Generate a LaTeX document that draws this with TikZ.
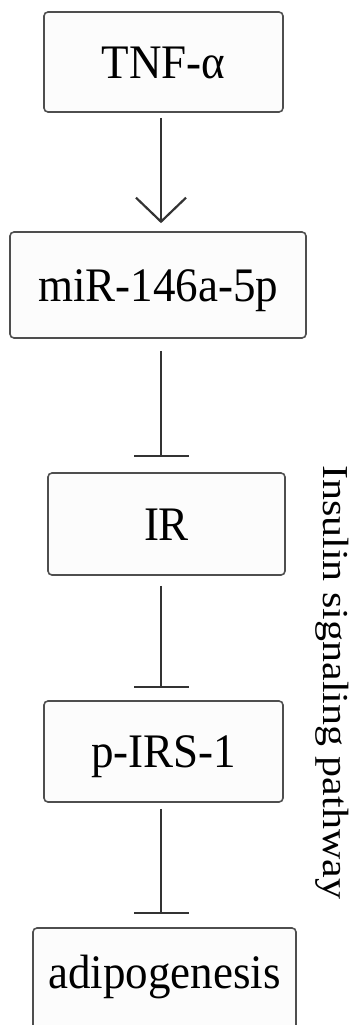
\documentclass[tikz,border=0pt]{standalone}
\usepackage{fontspec}
\setmainfont{Liberation Serif}
\usetikzlibrary{arrows.meta}
\definecolor{boxline}{HTML}{4E4E4E}
\definecolor{boxfill}{HTML}{FCFCFC}
\definecolor{conn}{HTML}{333333}
\tikzset{
  stepbox/.style={draw=boxline, fill=boxfill, line width=1.6pt, rounded corners=4pt,
    inner sep=0pt, text height=32pt, text depth=0pt,
    font=\fontsize{45}{45}\selectfont},
  actarrow/.style={draw=conn, line width=2.2pt, -{Straight Barb[length=24pt, width=50pt, line width=2.2pt]}},
  inhib/.style={draw=conn, line width=2pt, -{Bar[width=55pt, line width=2.6pt]}},
}
\newcommand{\tall}[1]{\scalebox{1}[1.07]{#1}}
\begin{document}
\begin{tikzpicture}[x=1pt,y=-1pt]
\useasboundingbox (0,0) rectangle (357,1025);
\clip (0,0) rectangle (357,1025);
\fill[white] (0,0) rectangle (357,1025);
\coordinate (cx) at (161,0);
\node[stepbox, minimum width=239pt, minimum height=100pt] (tnf) at (163.5,62) {\tall{TNF-α}};
\node[stepbox, minimum width=296pt, minimum height=106pt] (mir) at (158,285) {\tall{miR-146a-5p}};
\node[stepbox, minimum width=237pt, minimum height=102pt] (ir) at (166.5,524) {\tall{IR}};
\node[stepbox, minimum width=239pt, minimum height=101pt] (irs) at (163.5,751.5) {\tall{p-IRS-1}};
\node[stepbox, minimum width=263pt, minimum height=112pt, text depth=24pt] (adi) at (164.5,984) {\tall{adipogenesis}};
\draw[actarrow, shorten <=5pt, shorten >=8pt] (tnf.south -| cx) -- (mir.north -| cx);
\draw[inhib, shorten <=12pt, shorten >=15pt] (mir.south -| cx) -- (ir.north -| cx);
\draw[inhib, shorten <=10pt, shorten >=12pt] (ir.south -| cx) -- (irs.north -| cx);
\draw[inhib, shorten <=6pt, shorten >=13pt] (irs.south -| cx) -- (adi.north -| cx);
\node[rotate=-90, anchor=base west, inner sep=0pt, font=\fontsize{42}{42}\selectfont] (lab) at (323,465) {\scalebox{1}[0.87]{Insulin signaling pathway}};
\end{tikzpicture}
\end{document}
